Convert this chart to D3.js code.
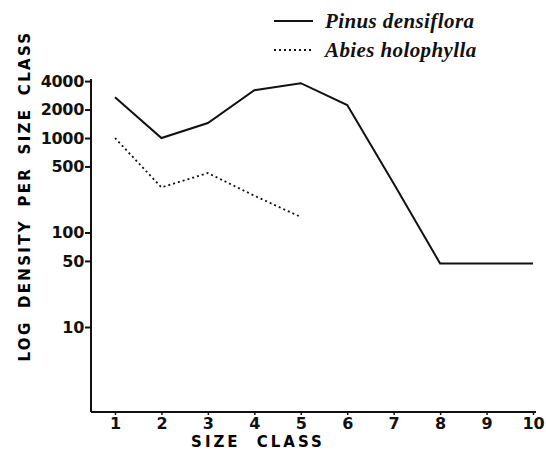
<!DOCTYPE html>
<html>
<head>
<meta charset="utf-8">
<script src="https://cdn.jsdelivr.net/npm/d3@7"></script>
<style>
  body { margin: 0; background: #fff; }
  svg { display: block; }
  .tick text { font-family: "DejaVu Sans", sans-serif; font-weight: bold; fill: #111; }
</style>
</head>
<body>
<svg id="chart" width="546" height="461"></svg>
<script>
var sizeClasses = [1, 2, 3, 4, 5, 6, 7, 8, 9, 10];
var pinusDensity = [2700, 1000, 1440, 3200, 3800, 2230, 330, 47, 47, 47];
var abiesDensity = [1000, 300, 426, 245, 146];
var yTickValues = [10, 50, 100, 500, 1000, 2000, 4000];
var seriesNames = ["Pinus densiflora", "Abies holophylla"];

var svg = d3.select("#chart");

var x = d3.scaleLinear().domain([1, 10]).range([115, 533]);
var y = d3.scaleLog().domain([10, 1000]).range([327, 138]);

var axisLeftX = 91, axisBottomY = 412;

// axes lines
svg.append("line")
  .attr("x1", axisLeftX).attr("x2", axisLeftX)
  .attr("y1", y(4000) - 2).attr("y2", axisBottomY)
  .attr("stroke", "#111").attr("stroke-width", 2);
svg.append("line")
  .attr("x1", axisLeftX).attr("x2", 536)
  .attr("y1", axisBottomY).attr("y2", axisBottomY)
  .attr("stroke", "#111").attr("stroke-width", 2);

// y ticks
var yAxis = svg.append("g")
  .attr("transform", "translate(" + axisLeftX + ",0)")
  .call(d3.axisLeft(y).tickValues(yTickValues).tickFormat(d3.format("d")).tickSize(6).tickPadding(1));
yAxis.select(".domain").remove();
yAxis.selectAll(".tick line").attr("stroke", "#111").attr("stroke-width", 2);
yAxis.selectAll(".tick text").style("font-size", "16px").attr("letter-spacing", "-0.3");

// x ticks
var xAxis = svg.append("g")
  .attr("transform", "translate(0," + axisBottomY + ")")
  .call(d3.axisBottom(x).tickValues(sizeClasses).tickSize(3).tickPadding(3));
xAxis.select(".domain").remove();
xAxis.selectAll(".tick line").attr("stroke", "#111").attr("stroke-width", 1.5);
xAxis.selectAll(".tick text").style("font-size", "16px");

// axis titles
svg.append("text")
  .attr("x", 258).attr("y", 447)
  .attr("text-anchor", "middle")
  .style("font-family", "DejaVu Sans, sans-serif")
  .style("font-weight", "bold")
  .style("font-size", "15px")
  .attr("letter-spacing", "3")
  .attr("word-spacing", "8")
  .text("SIZE CLASS");

svg.append("text")
  .attr("transform", "translate(30,196) rotate(-90)")
  .attr("text-anchor", "middle")
  .style("font-family", "DejaVu Sans, sans-serif")
  .style("font-weight", "bold")
  .style("font-size", "15px")
  .attr("letter-spacing", "2.3")
  .attr("word-spacing", "5")
  .text("LOG DENSITY PER SIZE CLASS");

// lines
var line = d3.line()
  .x(function(d, i) { return x(sizeClasses[i]); })
  .y(function(d) { return y(d); });

svg.append("path")
  .datum(pinusDensity)
  .attr("d", line)
  .attr("fill", "none")
  .attr("stroke", "#111")
  .attr("stroke-width", 2);

svg.append("path")
  .datum(abiesDensity)
  .attr("d", line)
  .attr("fill", "none")
  .attr("stroke", "#111")
  .attr("stroke-width", 1.8)
  .attr("stroke-dasharray", "2,3");

// legend
var legend = svg.append("g");
var legendRows = [
  { name: seriesNames[0], dash: null, y: 21 },
  { name: seriesNames[1], dash: "2,3", y: 50 }
];
legendRows.forEach(function(r) {
  legend.append("line")
    .attr("x1", 274).attr("x2", 313)
    .attr("y1", r.y).attr("y2", r.y)
    .attr("stroke", "#111")
    .attr("stroke-width", 2)
    .attr("stroke-dasharray", r.dash);
  legend.append("text")
    .attr("x", 325).attr("y", r.y + 7)
    .style("font-family", "Liberation Serif, serif")
    .style("font-style", "italic")
    .style("font-weight", "bold")
    .style("font-size", "21px")
    .attr("letter-spacing", "0.4")
    .attr("fill", "#111")
    .text(r.name);
});
</script>
</body>
</html>
